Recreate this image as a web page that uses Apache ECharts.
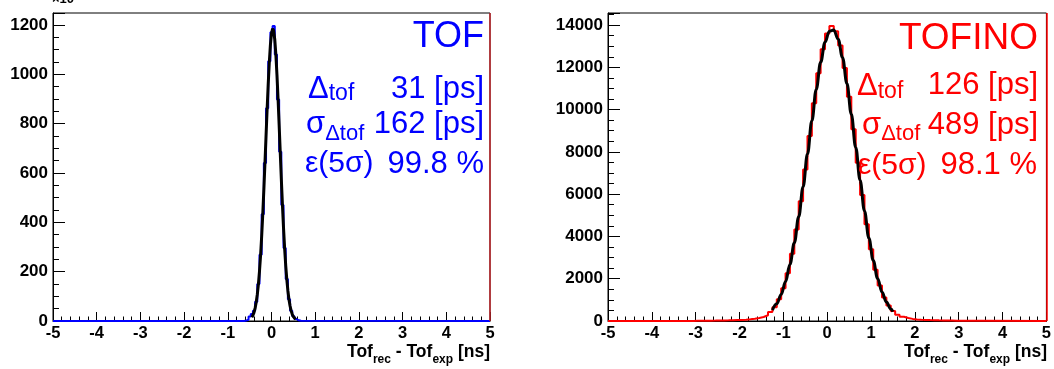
<!DOCTYPE html>
<html><head><meta charset="utf-8">
<script src="https://cdn.jsdelivr.net/npm/echarts@6/dist/echarts.min.js"></script>
<style>html,body{margin:0;padding:0;background:#fff}#c{width:1054px;height:369px}</style>
</head><body><div id="c"></div>
<script>
// ---------------- data ----------------
// TOF (left panel): histogram bin centres start at tofBinStart, width tofBinWidth
const tofBinStart = -0.6;
const tofBinWidth = 0.05;
const tofCounts = [2,5,18,28,42,78,150,268,433,640,862,1052,1170,1195,1080,898,686,470,296,170,88,42,19,8,3,1];
const tofFitX = [-0.45,-0.425,-0.4,-0.375,-0.35,-0.325,-0.3,-0.275,-0.25,-0.225,-0.2,-0.175,-0.15,-0.125,-0.1,-0.075,-0.05,-0.025,0,0.025,0.05,0.075,0.1,0.125,0.15,0.175,0.2,0.225,0.25,0.275,0.3,0.325,0.35,0.375,0.4,0.425,0.45,0.475,0.5,0.525,0.55];
const tofFitY = [14.7,23,35,52.1,75.7,107.4,148.8,201.5,266.1,343.3,432.4,532.2,639.2,749.8,858.8,960.6,1049,1118.6,1164.9,1184.4,1176,1140.2,1079.4,997.9,900.7,793.8,683.3,574.3,471.3,377.7,295.5,225.8,168.4,122.7,87.3,60.7,41.1,27.2,17.6,11.1,6.9];
// TOFINO (right panel)
const tofinoBinStart = -3.0;
const tofinoBinWidth = 0.1;
const tofinoCounts = [8,10,12,15,18,22,26,30,36,44,
  52,64,82,105,140,190,270,420,655,1026,
  1551,2261,3183,4323,5666,7168,8749,10306,11714,12850,
  13604,13950,13701,13035,11968,10603,9067,7481,5956,4577,
  3394,2429,1676,1117,730,470,300,200,140,100,
  75,60,50,42,36,30,26,22,19,16,
  14,12,10,8,7,6];
const tofinoFitX = [-1.25,-1.15,-1.05,-0.95,-0.85,-0.75,-0.65,-0.55,-0.45,-0.35,-0.25,-0.15,-0.05,0.05,0.15,0.25,0.35,0.45,0.55,0.65,0.75,0.85,0.95,1.05,1.15,1.25,1.35,1.45,1.5];
const tofinoFitY = [513,818,1258,1868,2677,3698,4936,6355,7897,9468,10957,12235,13186,13712,13761,13327,12456,11233,9777,8212,6656,5207,3930,2863,2012,1366,894,565,443];
// axes
const xRange = [-5, 5];
const tofYMax = 1248, tofYMajor = 200, tofYMinor = 50;
const tofinoYMax = 14570, tofinoYMajor = 2000, tofinoYMinor = 500;
// labels
const axisTitle = [['Tof','b'],['rec','s'],[' - Tof','b'],['exp','s'],[' [ns]','b']];
const tofText = {title:'TOF', delta:'31 [ps]', sigma:'162 [ps]', eff:'99.8 %'};
const tofinoText = {title:'TOFINO', delta:'126 [ps]', sigma:'489 [ps]', eff:'98.1 %'};

// ---------------- helpers ----------------
const FONT = '"Liberation Sans", Arial, Helvetica, sans-serif';
const BLUE = '#0000ff', RED = '#ff0000';
const r3 = v => Math.round(v * 1000) / 1000;
function outline(c0, w, counts) {
  const pts = [[xRange[0], 0], [r3(c0 - w / 2), 0]];
  counts.forEach((v, i) => {
    const c = c0 + i * w;
    pts.push([r3(c - w / 2), v], [r3(c + w / 2), v]);
  });
  pts.push([r3(c0 + (counts.length - 0.5) * w), 0], [xRange[1], 0]);
  return pts;
}
const zip = (xs, ys) => xs.map((x, i) => [x, ys[i]]);
const ctx = document.createElement('canvas').getContext('2d');
function tw(t, size, weight) { ctx.font = (weight || 'normal') + ' ' + size + 'px ' + FONT; return ctx.measureText(t).width; }
function run(x0, align, parts, color) {
  const total = parts.reduce((s, p) => s + tw(p.t, p.size, p.weight), 0);
  let x = align === 'right' ? x0 - total : x0;
  return parts.map(p => {
    const el = {type: 'text', x: x, y: p.y, silent: true, z: 100,
      style: {text: p.t, fontSize: p.size, fontFamily: FONT, fontWeight: p.weight || 'normal', fill: color, align: 'left', verticalAlign: 'middle'}};
    x += tw(p.t, p.size, p.weight);
    return el;
  });
}
function titleParts() {
  return axisTitle.map(([t, k]) => k === 'b' ? {t, size: 17.5, weight: 'bold', y: 352} : {t, size: 12, weight: 'bold', y: 360});
}

function xAxis(gi) {
  return {type: 'value', gridIndex: gi, min: xRange[0], max: xRange[1], interval: 1,
    axisLine: {show: true, onZero: false, lineStyle: {color: '#000', width: 1}},
    axisTick: {show: true, inside: true, length: 9, lineStyle: {color: '#000', width: 1}},
    minorTick: {show: true, splitNumber: 5, length: 4.5, lineStyle: {color: '#000', width: 1}},
    splitLine: {show: false}, minorSplitLine: {show: false},
    axisLabel: {color: '#000', fontSize: 16.5, fontWeight: 'bold', fontFamily: FONT, margin: 4}};
}
function yMajor(gi, max, step) {
  return {type: 'value', gridIndex: gi, position: 'left', min: 0, max: max, interval: step,
    axisLine: {show: true, onZero: false, lineStyle: {color: '#000', width: 1}},
    axisTick: {show: true, inside: true, length: 12, lineStyle: {color: '#000', width: 1}},
    splitLine: {show: false},
    axisLabel: {color: '#000', fontSize: 17, fontWeight: 'bold', fontFamily: FONT, margin: 5,
      formatter: v => (v % step === 0 ? String(v) : '')}};
}
function yMinor(gi, max, step) {
  return {type: 'value', gridIndex: gi, position: 'left', min: 0, max: max, interval: step,
    axisLine: {show: false, onZero: false}, axisLabel: {show: false}, splitLine: {show: false},
    axisTick: {show: true, inside: true, length: 6, lineStyle: {color: '#000', width: 1}}};
}

const chart = echarts.init(document.getElementById('c'), null, {renderer: 'canvas'});
chart.setOption({
  animation: false,
  backgroundColor: '#fff',
  grid: [
    {left: 53, top: 13, width: 437, height: 308, show: true, borderColor: '#000', borderWidth: 1, backgroundColor: 'transparent'},
    {left: 608, top: 13, width: 439, height: 308, show: true, borderColor: '#000', borderWidth: 1, backgroundColor: 'transparent'}
  ],
  xAxis: [xAxis(0), xAxis(1)],
  yAxis: [yMajor(0, tofYMax, tofYMajor), yMinor(0, tofYMax, tofYMinor), yMajor(1, tofinoYMax, tofinoYMajor), yMinor(1, tofinoYMax, tofinoYMinor)],
  series: [
    {type: 'line', xAxisIndex: 0, yAxisIndex: 0, data: outline(tofBinStart, tofBinWidth, tofCounts), showSymbol: false, clip: false, z: 3,
      lineStyle: {color: BLUE, width: 2},
      markLine: {silent: true, symbol: 'none', label: {show: false}, lineStyle: {color: '#c0262b', width: 1.5, type: 'solid'}, data: [{xAxis: xRange[1]}]}},
    {type: 'line', xAxisIndex: 0, yAxisIndex: 0, data: zip(tofFitX, tofFitY), showSymbol: false, clip: false, z: 4,
      lineStyle: {color: '#000', width: 3}},
    {type: 'line', xAxisIndex: 1, yAxisIndex: 2, data: outline(tofinoBinStart, tofinoBinWidth, tofinoCounts), showSymbol: false, clip: false, z: 3,
      lineStyle: {color: RED, width: 2},
      markLine: {silent: true, symbol: 'none', label: {show: false}, lineStyle: {color: RED, width: 1.5, type: 'solid'}, data: [{xAxis: xRange[1]}]}},
    {type: 'line', xAxisIndex: 1, yAxisIndex: 2, data: zip(tofinoFitX, tofinoFitY), showSymbol: false, clip: false, z: 4,
      smooth: 0.4, smoothMonotone: 'x', lineStyle: {color: '#000', width: 3}}
  ],
  graphic: [].concat(
    run(52, 'left', [{t: '×10³', size: 13, weight: 'bold', y: -1}], '#000'),
    run(490, 'right', titleParts(), '#000'),
    run(1047, 'right', titleParts(), '#000'),
    // TOF
    run(484, 'right', [{t: tofText.title, size: 36, y: 37.5}], BLUE),
    run(308, 'left', [{t: 'Δ', size: 31, y: 89}, {t: 'tof', size: 23, y: 93.6}], BLUE),
    run(484, 'right', [{t: tofText.delta, size: 31, y: 89.2}], BLUE),
    run(306, 'left', [{t: 'σ', size: 31, y: 124.2}, {t: 'Δtof', size: 22, y: 134}], BLUE),
    run(484, 'right', [{t: tofText.sigma, size: 31, y: 124.2}], BLUE),
    run(305, 'left', [{t: 'ε(5σ)', size: 30, y: 164}], BLUE),
    run(484, 'right', [{t: tofText.eff, size: 31, y: 164}], BLUE),
    // TOFINO
    run(1038, 'right', [{t: tofinoText.title, size: 37, y: 38.8}], RED),
    run(857, 'left', [{t: 'Δ', size: 31, y: 86}, {t: 'tof', size: 23, y: 92}], RED),
    run(1038, 'right', [{t: tofinoText.delta, size: 31, y: 85.8}], RED),
    run(862, 'left', [{t: 'σ', size: 31, y: 125.9}, {t: 'Δtof', size: 22, y: 134}], RED),
    run(1038, 'right', [{t: tofinoText.sigma, size: 31, y: 125.9}], RED),
    run(858, 'left', [{t: 'ε(5σ)', size: 30, y: 165.8}], RED),
    run(1037, 'right', [{t: tofinoText.eff, size: 31, y: 165.8}], RED)
  )
});
</script></body></html>
